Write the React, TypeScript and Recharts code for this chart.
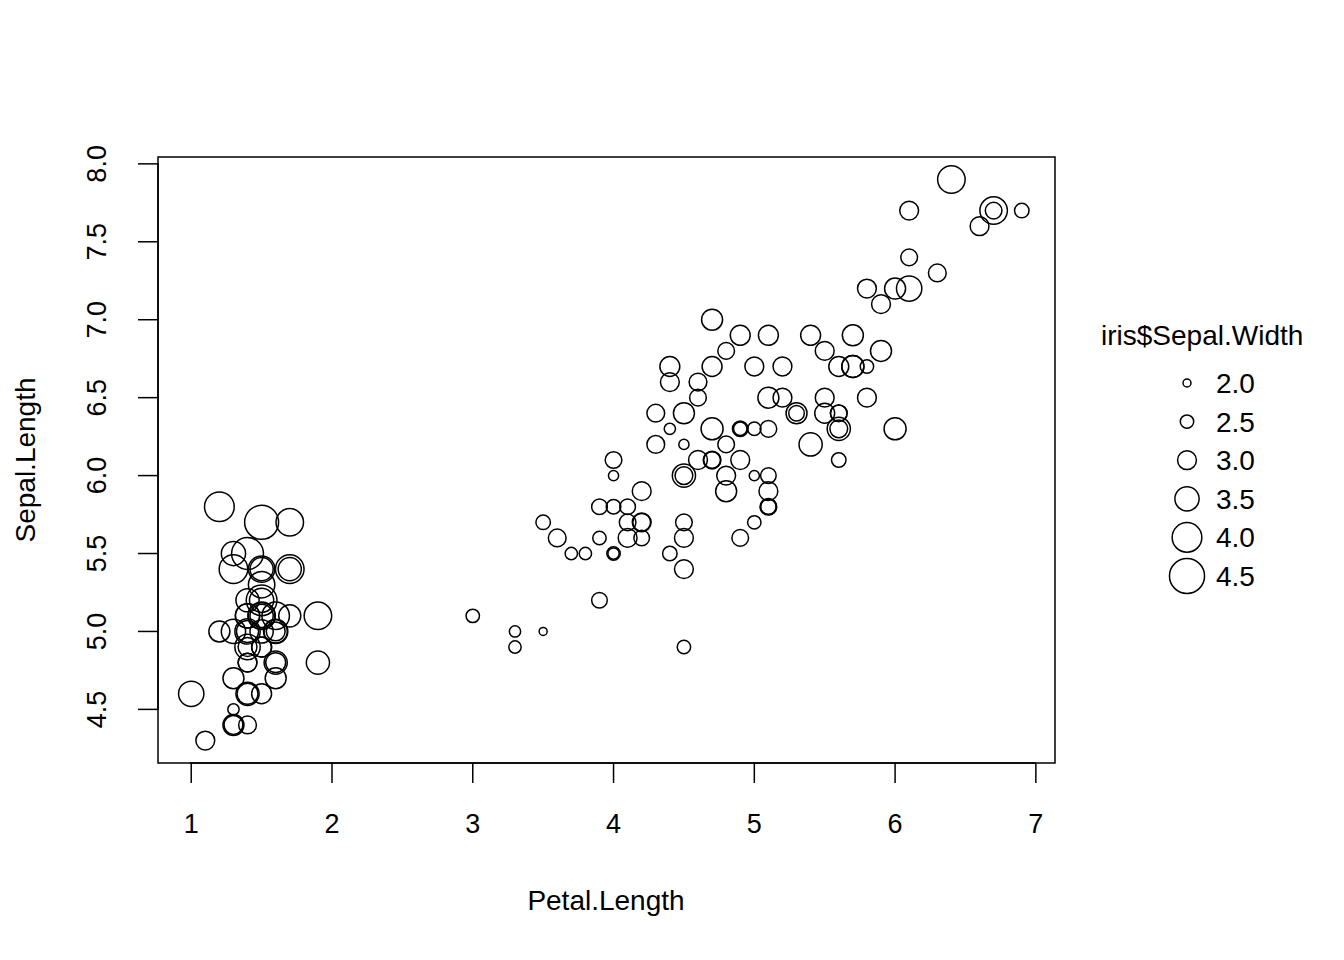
import React from "react";
import { ScatterChart, Scatter, XAxis, YAxis, ReferenceArea } from "recharts";

const petalLength = [1.4,1.4,1.3,1.5,1.4,1.7,1.4,1.5,1.4,1.5,1.5,1.6,1.4,1.1,1.2,1.5,1.3,1.4,1.7,1.5,1.7,1.5,1.0,1.7,1.9,1.6,1.6,1.5,1.4,1.6,1.6,1.5,1.5,1.4,1.5,1.2,1.3,1.4,1.3,1.5,1.3,1.3,1.3,1.6,1.9,1.4,1.6,1.4,1.5,1.4,
4.7,4.5,4.9,4.0,4.6,4.5,4.7,3.3,4.6,3.9,3.5,4.2,4.0,4.7,3.6,4.4,4.5,4.1,4.5,3.9,4.8,4.0,4.9,4.7,4.3,4.4,4.8,5.0,4.5,3.5,3.8,3.7,3.9,5.1,4.5,4.5,4.7,4.4,4.1,4.0,4.4,4.6,4.0,3.3,4.2,4.2,4.2,4.3,3.0,4.1,
6.0,5.1,5.9,5.6,5.8,6.6,4.5,6.3,5.8,6.1,5.1,5.3,5.5,5.0,5.1,5.3,5.5,6.7,6.9,5.0,5.7,4.9,6.7,4.9,5.7,6.0,4.8,4.9,5.6,5.8,6.1,6.4,5.6,5.1,5.6,6.1,5.6,5.5,4.8,5.4,5.6,5.1,5.1,5.9,5.7,5.2,5.0,5.2,5.4,5.1];
const sepalLength = [5.1,4.9,4.7,4.6,5.0,5.4,4.6,5.0,4.4,4.9,5.4,4.8,4.8,4.3,5.8,5.7,5.4,5.1,5.7,5.1,5.4,5.1,4.6,5.1,4.8,5.0,5.0,5.2,5.2,4.7,4.8,5.4,5.2,5.5,4.9,5.0,5.5,4.9,4.4,5.1,5.0,4.5,4.4,5.0,5.1,4.8,5.1,4.6,5.3,5.0,
7.0,6.4,6.9,5.5,6.5,5.7,6.3,4.9,6.6,5.2,5.0,5.9,6.0,6.1,5.6,6.7,5.6,5.8,6.2,5.6,5.9,6.1,6.3,6.1,6.4,6.6,6.8,6.7,6.0,5.7,5.5,5.5,5.8,6.0,5.4,6.0,6.7,6.3,5.6,5.5,5.5,6.1,5.8,5.0,5.6,5.7,5.7,6.2,5.1,5.7,
6.3,5.8,7.1,6.3,6.5,7.6,4.9,7.3,6.7,7.2,6.5,6.4,6.8,5.7,5.8,6.4,6.5,7.7,7.7,6.0,6.9,5.6,7.7,6.3,6.7,7.2,6.2,6.1,6.4,7.2,7.4,7.9,6.4,6.3,6.1,7.7,6.3,6.4,6.0,6.9,6.7,6.9,5.8,6.8,6.7,6.7,6.3,6.5,6.2,5.9];
const sepalWidth = [3.5,3.0,3.2,3.1,3.6,3.9,3.4,3.4,2.9,3.1,3.7,3.4,3.0,3.0,4.0,4.4,3.9,3.5,3.8,3.8,3.4,3.7,3.6,3.3,3.4,3.0,3.4,3.5,3.4,3.2,3.1,3.4,4.1,4.2,3.1,3.2,3.5,3.6,3.0,3.4,3.5,2.3,3.2,3.5,3.8,3.0,3.8,3.2,3.7,3.3,
3.2,3.2,3.1,2.3,2.8,2.8,3.3,2.4,2.9,2.7,2.0,3.0,2.2,2.9,2.9,3.1,3.0,2.7,2.2,2.5,3.2,2.8,2.5,2.8,2.9,3.0,2.8,3.0,2.9,2.6,2.4,2.4,2.7,2.7,3.0,3.4,3.1,2.3,3.0,2.5,2.6,3.0,2.6,2.3,2.7,3.0,2.9,2.9,2.5,2.8,
3.3,2.7,3.0,2.9,3.0,3.0,2.5,2.9,2.5,3.6,3.2,2.7,3.0,2.5,2.8,3.2,3.0,3.8,2.6,2.2,3.2,2.8,2.8,2.7,3.3,3.2,2.8,3.0,2.8,3.0,2.8,3.8,2.8,2.8,2.6,3.0,3.4,3.1,3.0,3.1,3.1,3.1,2.7,3.2,3.3,3.0,2.5,3.0,3.4,3.0];
const xTicks = [1, 2, 3, 4, 5, 6, 7];
const yTicks = [4.5, 5.0, 5.5, 6.0, 6.5, 7.0, 7.5, 8.0];
const legendValues = [2.0, 2.5, 3.0, 3.5, 4.0, 4.5];

const data = petalLength.map((p, i) => ({ x: p, y: sepalLength[i], w: sepalWidth[i] }));
const rad = (w: number) => 4 + ((w - 2) / 2.4) * 13;
const FONT = "Liberation Sans, Arial, sans-serif";

const Dot = (props: any) => (
  <circle cx={props.cx} cy={props.cy} r={rad(props.payload.w)} fill="none" stroke="#000" strokeWidth={1.5} />
);

const XTick = (props: any) => (
  <text x={props.x} y={props.y + 48} textAnchor="middle" fontSize={27} fontFamily={FONT} fill="#000">
    {props.payload.value}
  </text>
);
const YTick = (props: any) => (
  <text x={props.x - 30} y={props.y} textAnchor="middle" fontSize={27} fontFamily={FONT} fill="#000"
    transform={`rotate(-90 ${props.x - 30} ${props.y})`}>
    {props.payload.value.toFixed(1)}
  </text>
);

export default function App() {
  return (
    <div style={{ position: "absolute", left: 0, top: 0, width: 1344, height: 960, background: "#fff" }}>
      <ScatterChart width={1344} height={960} margin={{ top: 157, right: 289, bottom: 137, left: 78 }}>
        <XAxis type="number" dataKey="x" domain={[0.764, 7.136]} ticks={xTicks} axisLine={false}
          tickLine={{ stroke: "#000", strokeWidth: 1.5 }} tickSize={20} height={60} tick={<XTick />} allowDataOverflow />
        <YAxis type="number" dataKey="y" domain={[4.156, 8.044]} ticks={yTicks} axisLine={false}
          tickLine={{ stroke: "#000", strokeWidth: 1.5 }} tickSize={20} width={80} tick={<YTick />} allowDataOverflow />
        <ReferenceArea x1={0.764} x2={7.136} y1={4.156} y2={8.044} fill="none" stroke="#000" strokeWidth={1.5} fillOpacity={0} />
        <Scatter data={data} shape={<Dot />} isAnimationActive={false} />
      </ScatterChart>
      <svg width={1344} height={960} style={{ position: "absolute", left: 0, top: 0, pointerEvents: "none" }}>
        <line x1={190} x2={1036} y1={763} y2={763} stroke="#000" strokeWidth={1.5} />
        <line x1={158} x2={158} y1={710} y2={163} stroke="#000" strokeWidth={1.5} />
        <text x={606} y={910} textAnchor="middle" fontSize={28} fontFamily={FONT}>Petal.Length</text>
        <text x={35} y={460} textAnchor="middle" fontSize={28} fontFamily={FONT} transform="rotate(-90 35 460)">Sepal.Length</text>
        <text x={1101} y={345} fontSize={28} fontFamily={FONT}>iris$Sepal.Width</text>
        {legendValues.map((v, i) => (
          <g key={v}>
            <circle cx={1187} cy={383 + i * 38.6} r={rad(v)} fill="none" stroke="#000" strokeWidth={1.5} />
            <text x={1216} y={393 + i * 38.6} fontSize={28} fontFamily={FONT}>{v.toFixed(1)}</text>
          </g>
        ))}
      </svg>
    </div>
  );
}
